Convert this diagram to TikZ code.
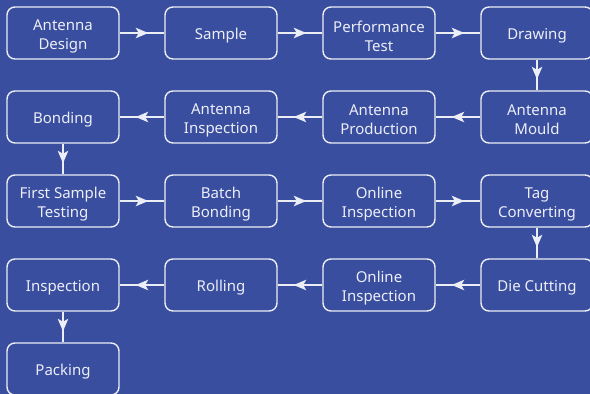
\documentclass[tikz,border=0pt]{standalone}
\usepackage{fontspec}
\setmainfont{Noto Sans}
\usetikzlibrary{arrows.meta,decorations.markings}
\definecolor{bg}{HTML}{3A4EA0}
\definecolor{fg}{HTML}{ECEEF6}
\tikzset{
  steplabel/.style={text=fg, align=center, inner sep=0pt, yshift=-3pt, font=\fontsize{15}{19}\selectfont},
  stepbox/.style={draw=fg, line width=1.4pt, rounded corners=8pt, minimum width=112pt, minimum height=52pt,
    inner sep=0pt, label={[steplabel]center:#1}},
  flow/.style={draw=fg, line width=1.4pt, postaction={decorate},
    decoration={markings, mark=at position 0.64 with {\arrow{Stealth[length=12.5pt,width=10.5pt,inset=3pt]}}}}
}
\begin{document}
\begin{tikzpicture}[x=1pt,y=-1pt]
\fill[bg] (0,0) rectangle (590,394);
\useasboundingbox (0,0) rectangle (590,394);
\node[stepbox={Antenna\\Design}] (a1) at (63,33) {};
\node[stepbox={Sample}] (a2) at (221,33) {};
\node[stepbox={Performance\\Test}] (a3) at (379,33) {};
\node[stepbox={Drawing}] (a4) at (537,33) {};
\node[stepbox={Antenna\\Mould}] (b4) at (537,117) {};
\node[stepbox={Antenna\\Production}] (b3) at (379,117) {};
\node[stepbox={Antenna\\Inspection}] (b2) at (221,117) {};
\node[stepbox={Bonding}] (b1) at (63,117) {};
\node[stepbox={First Sample\\Testing}] (c1) at (63,201) {};
\node[stepbox={Batch\\Bonding}] (c2) at (221,201) {};
\node[stepbox={Online\\Inspection}] (c3) at (379,201) {};
\node[stepbox={Tag\\Converting}] (c4) at (537,201) {};
\node[stepbox={Die Cutting}] (d4) at (537,285) {};
\node[stepbox={Online\\Inspection}] (d3) at (379,285) {};
\node[stepbox={Rolling}] (d2) at (221,285) {};
\node[stepbox={Inspection}] (d1) at (63,285) {};
\node[stepbox={Packing}] (e1) at (63,369) {};
\draw[flow] (a1) -- (a2);
\draw[flow] (a2) -- (a3);
\draw[flow] (a3) -- (a4);
\draw[flow] (a4) -- (b4);
\draw[flow] (b4) -- (b3);
\draw[flow] (b3) -- (b2);
\draw[flow] (b2) -- (b1);
\draw[flow] (b1) -- (c1);
\draw[flow] (c1) -- (c2);
\draw[flow] (c2) -- (c3);
\draw[flow] (c3) -- (c4);
\draw[flow] (c4) -- (d4);
\draw[flow] (d4) -- (d3);
\draw[flow] (d3) -- (d2);
\draw[flow] (d2) -- (d1);
\draw[flow] (d1) -- (e1);
\end{tikzpicture}
\end{document}
